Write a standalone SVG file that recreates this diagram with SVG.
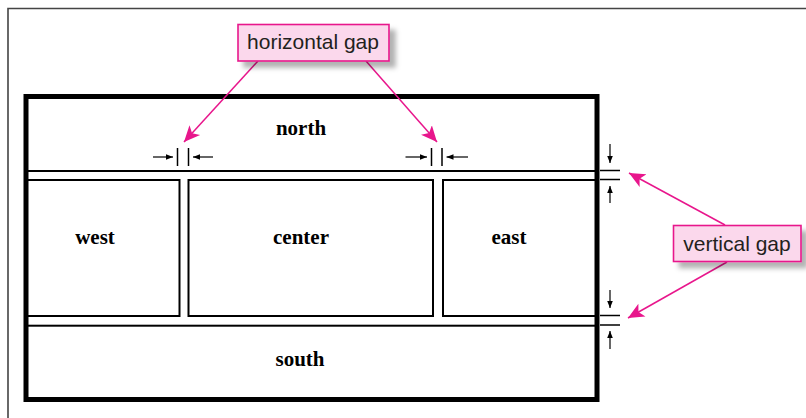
<svg xmlns="http://www.w3.org/2000/svg" width="806" height="418" viewBox="0 0 806 418">
<style>
.frame{fill:none;stroke:#444;stroke-width:1.6}
.region{fill:#fff;stroke:#000;stroke-width:2}
.outer{fill:none;stroke:#000;stroke-width:5}
.lbl{font-family:"Liberation Serif","Times New Roman",serif;font-weight:bold;font-size:21px;fill:#000;text-anchor:middle}
.tick{stroke:#000;stroke-width:1.5}
.dim{stroke:#000;stroke-width:1.2;fill:none}
.call{fill:#fbd8ec;stroke:#e8168c;stroke-width:1.6}
.calltxt{font-family:"Liberation Sans",Arial,sans-serif;font-size:21px;fill:#231f20;text-anchor:middle}
.lead{stroke:#e8168c;stroke-width:1.5;fill:none}
</style>
<defs>
<marker id="ah" viewBox="0 0 10 10" refX="10" refY="5" markerWidth="7" markerHeight="7" markerUnits="userSpaceOnUse" orient="auto">
<path d="M0,1 L10,5 L0,9 Z" fill="#000"/>
</marker>
<marker id="mh" viewBox="0 0 10 10" refX="10" refY="5" markerWidth="16" markerHeight="16" markerUnits="userSpaceOnUse" orient="auto">
<path d="M0,0.5 L10,5 L0,9.5 L2.5,5 Z" fill="#e8168c"/>
</marker>
<filter id="sh" x="-20%" y="-30%" width="150%" height="180%">
<feDropShadow dx="6" dy="6" stdDeviation="2.5" flood-color="#000" flood-opacity="0.3"/>
</filter>
</defs>
<path class="frame" d="M8,418 V8.5 H806"/>
<g id="north"><rect class="region" x="26" y="96.5" width="571" height="74.5"/><text class="lbl" x="301" y="135">north</text></g>
<g id="west"><rect class="region" x="26" y="180" width="153.5" height="136"/><text class="lbl" x="95" y="244">west</text></g>
<g id="center"><rect class="region" x="188.5" y="180" width="244.5" height="136"/><text class="lbl" x="301" y="244">center</text></g>
<g id="east"><rect class="region" x="443" y="180" width="154" height="136"/><text class="lbl" x="509" y="244">east</text></g>
<g id="south"><rect class="region" x="26" y="325.7" width="571" height="73.8"/><text class="lbl" x="300" y="365.5">south</text></g>
<rect class="outer" x="26" y="96.5" width="571" height="303"/>
<g id="dimensions">
<line class="tick" x1="177.5" y1="148" x2="177.5" y2="166"/>
<line class="tick" x1="188.5" y1="148" x2="188.5" y2="166"/>
<line class="dim" x1="153" y1="157" x2="173" y2="157" marker-end="url(#ah)"/>
<line class="dim" x1="213" y1="157" x2="193" y2="157" marker-end="url(#ah)"/>
<line class="tick" x1="431.5" y1="148" x2="431.5" y2="166"/>
<line class="tick" x1="442" y1="148" x2="442" y2="166"/>
<line class="dim" x1="405.5" y1="157" x2="427" y2="157" marker-end="url(#ah)"/>
<line class="dim" x1="468" y1="157" x2="446.5" y2="157" marker-end="url(#ah)"/>
<line class="tick" x1="600" y1="170.5" x2="620" y2="170.5"/>
<line class="tick" x1="600" y1="179.5" x2="620" y2="179.5"/>
<line class="dim" x1="610" y1="144" x2="610" y2="163" marker-end="url(#ah)"/>
<line class="dim" x1="610" y1="203" x2="610" y2="186" marker-end="url(#ah)"/>
<line class="tick" x1="600" y1="315.5" x2="620" y2="315.5"/>
<line class="tick" x1="600" y1="325" x2="620" y2="325"/>
<line class="dim" x1="610" y1="290" x2="610" y2="308" marker-end="url(#ah)"/>
<line class="dim" x1="610" y1="349" x2="610" y2="331" marker-end="url(#ah)"/>
</g>
<g id="connectors">
<line class="lead" x1="258" y1="61" x2="184" y2="142" marker-end="url(#mh)"/>
<line class="lead" x1="366" y1="61" x2="437" y2="142" marker-end="url(#mh)"/>
<line class="lead" x1="725" y1="225" x2="629" y2="173" marker-end="url(#mh)"/>
<line class="lead" x1="727" y1="262" x2="628" y2="318" marker-end="url(#mh)"/>
</g>
<g id="horizontal-gap"><rect class="call" x="238" y="24.5" width="151" height="36.5" filter="url(#sh)"/><text class="calltxt" x="313" y="48.5">horizontal gap</text></g>
<g id="vertical-gap"><rect class="call" x="673.5" y="225.5" width="127.5" height="36" filter="url(#sh)"/><text class="calltxt" x="737" y="250.5">vertical gap</text></g>
</svg>
